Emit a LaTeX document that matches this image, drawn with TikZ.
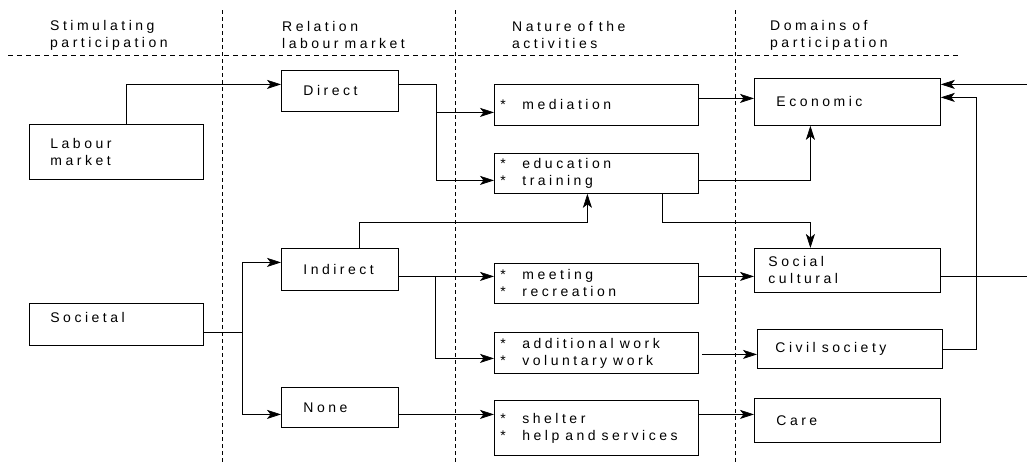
\documentclass[tikz,border=0pt]{standalone}
\usepackage{fontspec}
\setmainfont{Liberation Sans}[LetterSpace=25]
\usepackage{tikz}
\usetikzlibrary{arrows.meta}

\newcommand{\itm}[1]{\makebox[22pt][l]{*}#1}
\newcommand{\ws}{\hspace{6pt}}

\begin{document}
\begin{tikzpicture}[x=1pt, y=-1pt,
    every node/.style={font=\fontsize{14}{17}\selectfont},
    box/.style={draw, line width=0.8pt, anchor=north west, align=left, inner ysep=1pt},
    act/.style={box, text width=192pt, inner xsep=6pt},
    dom/.style={box, text width=142pt, inner xsep=22pt},
    arr/.style={line width=0.7pt, -{Stealth[length=14pt, width=9pt, inset=3.5pt]}},
    ln/.style={line width=0.7pt},
    sep/.style={line width=0.6pt, dash pattern=on 4pt off 3pt},
    head/.style={anchor=west, align=left, inner sep=0pt}]
\useasboundingbox (0,0) rectangle (1027,463);

\draw[sep, dash pattern=on 5pt off 4pt] (8,55) -- (958,55);
\foreach \x in {222, 455, 735} \draw[sep] (\x,10) -- (\x,463);

\node[head] (hstim) at (50,35)  {Stimulating\\participation};
\node[head] (hrel)  at (282,35) {Relation\\labour\ws market};
\node[head] (hnat)  at (512,35) {Nature\ws of\ws the\\activities};
\node[head] (hdom)  at (770,35) {Domains\ws of\\participation};

\node[box, minimum height=55pt, text width=132pt, inner xsep=21pt] (labour) at (29,124) {Labour\\market};
\node[box, minimum height=42pt, text width=132pt, inner xsep=21pt, text depth=14pt] (societal) at (29,303) {Societal};

\node[box, minimum height=41pt, text width=73pt, inner xsep=22pt] (direct)   at (281,70)  {Direct};
\node[box, minimum height=42pt, text width=73pt, inner xsep=22pt] (indirect) at (281,248) {Indirect};
\node[box, minimum height=40pt, text width=73pt, inner xsep=22pt] (none)     at (281,387) {None};

\node[act, minimum height=41pt] (mediation)  at (494,84)  {\itm{mediation}};
\node[act, minimum height=40pt] (education)  at (494,153) {\itm{education}\\\itm{training}};
\node[act, minimum height=40pt] (meeting)    at (494,263) {\itm{meeting}\\\itm{recreation}};
\node[act, minimum height=41pt] (additional) at (494,332) {\itm{additional\ws work}\\\itm{voluntary\ws work}};
\node[act, minimum height=55pt] (shelter)    at (494,400) {\itm{shelter}\\\itm{help\ws and\ws services}};

\node[dom, minimum height=47pt] (economic) at (754,78)  {Economic};
\node[dom, minimum height=44pt, inner xsep=14pt, text width=158pt] (social) at (754,248) {Social\\cultural};
\node[dom, minimum height=39pt, inner xsep=18pt, text width=149pt] (civil) at (757,329) {Civil\ws society};
\node[dom, minimum height=44pt] (care) at (754,398) {Care};

\coordinate (rim) at (1027,0);

\draw[arr] ([xshift=10pt]labour.north) |- ([yshift=6.5pt]direct.west);
\draw[arr] ([yshift=6.5pt]direct.east) -- ++(38,0) |- ([yshift=-7.5pt]mediation.west);
\draw[arr] ([yshift=6.5pt]direct.east) -- ++(38,0) |- ([yshift=-7pt]education.west);
\draw[ln] ([yshift=-8pt]societal.east) -- ++(39,0) coordinate (sfork);
\draw[arr] (sfork) |- ([yshift=7pt]indirect.west);
\draw[arr] (sfork) |- ([yshift=-7pt]none.west);
\draw[arr] ([xshift=19.5pt]indirect.north) -- ++(0,-26) -| ([xshift=-9pt]education.south);
\draw[arr] ([yshift=-7pt]indirect.east) coordinate (ie) -- (meeting.west |- ie);
\draw[arr] (ie) -- ++(37,0) |- ([yshift=-5.5pt]additional.west);
\draw[arr] ([yshift=-7pt]none.east) coordinate (ne) -- (shelter.west |- ne);

\draw[arr] ([yshift=6.5pt]mediation.east) coordinate (me) -- (economic.west |- me);
\draw[arr] ([yshift=-7pt]education.east) -| ([xshift=-37pt]economic.south);
\draw[arr] ([xshift=66pt]education.south) -- ++(0,29) -| ([xshift=-37pt]social.north);
\draw[arr] ([yshift=7pt]meeting.east) coordinate (mt) -- (social.west |- mt);
\draw[arr] ([xshift=3pt,yshift=-1.5pt]additional.east) coordinate (ae) -- (civil.west |- ae);
\draw[arr] ([yshift=13.5pt]shelter.east) coordinate (se) -- (care.west |- se);

\draw[ln] ([yshift=-6pt]social.east) coordinate (sc) -- (sc -| rim);
\coordinate (ec) at ([yshift=17.5pt]economic.east);
\draw[arr] (ec -| rim) -- (ec);
\draw[arr] (civil.east) -- ++(34,0) |- ([yshift=4.5pt]economic.east);
\end{tikzpicture}
\end{document}
